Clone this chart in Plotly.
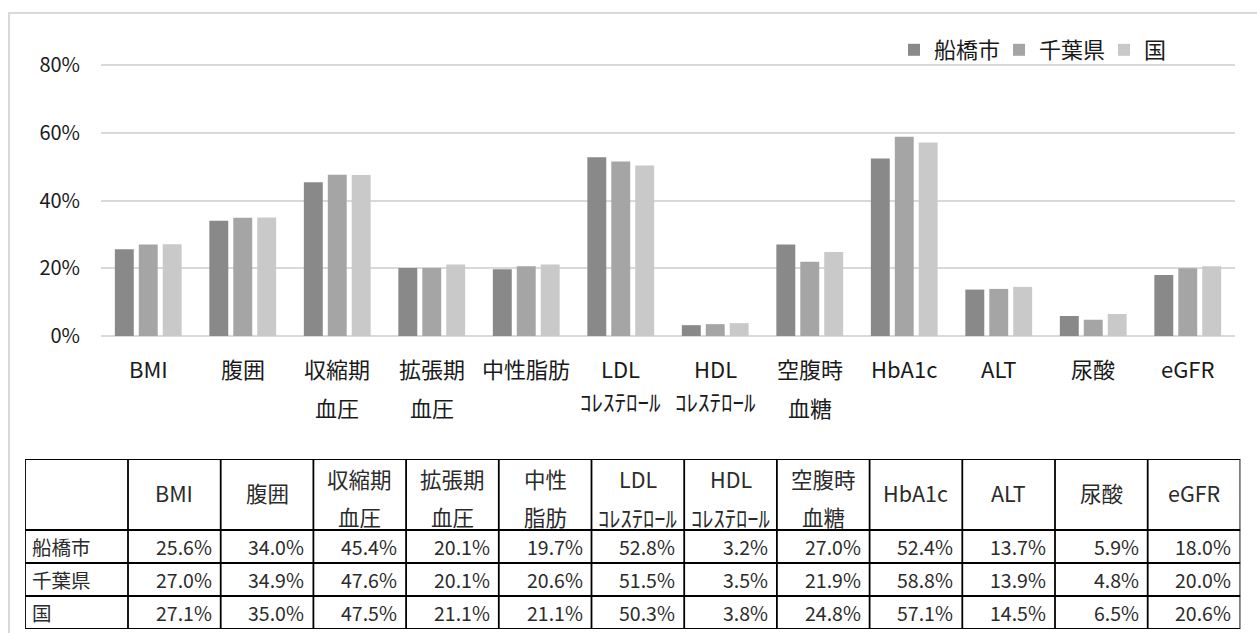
import plotly.graph_objects as go

# ---------------- data ----------------
categories = ["BMI", "腹囲", "収縮期血圧", "拡張期血圧", "中性脂肪", "LDLコレステロール",
              "HDLコレステロール", "空腹時血糖", "HbA1c", "ALT", "尿酸", "eGFR"]
label_line1 = ["BMI", "腹囲", "収縮期", "拡張期", "中性脂肪", "LDL", "HDL", "空腹時",
               "HbA1c", "ALT", "尿酸", "eGFR"]
label_line2 = ["", "", "血圧", "血圧", "", "ｺﾚｽﾃﾛｰﾙ", "ｺﾚｽﾃﾛｰﾙ", "血糖", "", "", "", ""]
table_head1 = ["BMI", "腹囲", "収縮期", "拡張期", "中性", "LDL", "HDL", "空腹時",
               "HbA1c", "ALT", "尿酸", "eGFR"]
table_head2 = ["", "", "血圧", "血圧", "脂肪", "ｺﾚｽﾃﾛｰﾙ", "ｺﾚｽﾃﾛｰﾙ", "血糖", "", "", "", ""]
series_names = ["船橋市", "千葉県", "国"]
funabashi = [25.6, 34.0, 45.4, 20.1, 19.7, 52.8, 3.2, 27.0, 52.4, 13.7, 5.9, 18.0]
chiba = [27.0, 34.9, 47.6, 20.1, 20.6, 51.5, 3.5, 21.9, 58.8, 13.9, 4.8, 20.0]
kuni = [27.1, 35.0, 47.5, 21.1, 21.1, 50.3, 3.8, 24.8, 57.1, 14.5, 6.5, 20.6]
y_ticks = [0, 20, 40, 60, 80]

# ---------------- style ----------------
W, H = 1257, 633
FONT = "Noto Sans CJK JP"
TXT = "#1a1a1a"
TTXT = "#2b2b2b"
colors = ["#898989", "#a5a5a5", "#c9c9c9"]
col_widths = [103] + [92.7] * len(categories)   # table column widths (px)
row_heights = [71, 33, 33, 33]                   # table row heights (px)


def py(px):  # pixel (from top) -> paper coordinate
    return 1 - px / H


def pxx(px):
    return px / W


# chart vertical geometry
y_zero_px, y80_px = 336, 65
y_top_val = 81
px_per = (y_zero_px - y80_px) / 80
y_top_px = y_zero_px - y_top_val * px_per

fig = go.Figure()
for name, vals, col in zip(series_names, [funabashi, chiba, kuni], colors):
    fig.add_trace(go.Bar(x=categories, y=vals, name=name,
                         marker=dict(color=col, line=dict(width=0)),
                         xaxis="x", yaxis="y", hoverinfo="x+y+name"))

annotations = []
shapes = []

# category labels (two lines)
for cat, l1, l2 in zip(categories, label_line1, label_line2):
    annotations.append(dict(x=cat, xref="x", y=py(368), yref="paper", text=l1, showarrow=False,
                            yanchor="middle", font=dict(family=FONT, size=22, color=TXT)))
    if l2:
        kana = l2.startswith("ｺ")
        annotations.append(dict(x=cat, xref="x", y=py(401 if kana else 407), yref="paper",
                                text=l2, showarrow=False, yanchor="middle",
                                font=dict(family=FONT, size=23 if kana else 22, color=TXT)))

# ---------------- table (drawn on auxiliary axes x2/y2, in px units) ----------------
x_edges = [0]
for w in col_widths:
    x_edges.append(x_edges[-1] + w)
y_edges = [0]
for h in row_heights:
    y_edges.append(y_edges[-1] + h)
tab_w, tab_h = x_edges[-1], y_edges[-1]
tab_left, tab_top = 25, 459

for xe in x_edges:
    shapes.append(dict(type="line", xref="x2", yref="y2", x0=xe, x1=xe, y0=0, y1=tab_h,
                       line=dict(color="black", width=1.8)))
for ye in y_edges:
    shapes.append(dict(type="line", xref="x2", yref="y2", x0=0, x1=tab_w, y0=ye, y1=ye,
                       line=dict(color="black", width=1.8)))

hdr_h = row_heights[0]
for j, (h1, h2) in enumerate(zip(table_head1, table_head2)):
    cx = (x_edges[j + 1] + x_edges[j + 2]) / 2
    if h2:
        annotations.append(dict(x=cx, xref="x2", y=hdr_h * 0.27, yref="y2", text=h1,
                                showarrow=False, yanchor="middle",
                                font=dict(family=FONT, size=21.5, color=TTXT)))
        kana = h2.startswith("ｺ")
        annotations.append(dict(x=cx, xref="x2", y=hdr_h * 0.81, yref="y2", text=h2,
                                showarrow=False, yanchor="middle",
                                font=dict(family=FONT, size=22.5 if kana else 21.5, color=TTXT)))
    else:
        annotations.append(dict(x=cx, xref="x2", y=hdr_h * 0.47, yref="y2", text=h1,
                                showarrow=False, yanchor="middle",
                                font=dict(family=FONT, size=21.5, color=TTXT)))

for r, (name, vals) in enumerate(zip(series_names, [funabashi, chiba, kuni])):
    cy = (y_edges[r + 1] + y_edges[r + 2]) / 2
    annotations.append(dict(x=x_edges[0] + 5, xref="x2", y=cy, yref="y2", text=name,
                            showarrow=False, xanchor="left", yanchor="middle",
                            font=dict(family=FONT, size=19.5, color=TTXT)))
    for j, v in enumerate(vals):
        annotations.append(dict(x=x_edges[j + 2] - 7, xref="x2", y=cy, yref="y2",
                                text=f"{v:.1f}%", showarrow=False, xanchor="right",
                                yanchor="middle", font=dict(family=FONT, size=19.5, color=TTXT)))

# outer light frame
shapes.append(dict(type="rect", xref="paper", yref="paper", x0=pxx(9), x1=1.2, y0=-0.2,
                   y1=py(13), line=dict(color="#d9d9d9", width=2),
                   fillcolor="rgba(0,0,0,0)", layer="below"))

fig.update_layout(
    width=W, height=H,
    margin=dict(l=0, r=0, t=0, b=0, autoexpand=False),
    paper_bgcolor="white", plot_bgcolor="white",
    barmode="group", bargap=0.24, bargroupgap=0.21,
    font=dict(family=FONT, color=TXT),
    xaxis=dict(domain=[pxx(101), pxx(1235)], showticklabels=False, showgrid=False,
               showline=False, ticks="", fixedrange=True),
    yaxis=dict(domain=[py(y_zero_px), py(y_top_px)], range=[0, y_top_val], tickvals=y_ticks,
               ticktext=[f"{v}%" for v in y_ticks], showgrid=True, gridcolor="#d9d9d9",
               gridwidth=1.5, zeroline=True, zerolinecolor="#d9d9d9", zerolinewidth=2,
               showline=False, ticks="", ticklabelstandoff=20, fixedrange=True,
               tickfont=dict(family=FONT, size=20, color=TXT)),
    xaxis2=dict(domain=[pxx(tab_left), pxx(tab_left + tab_w)], range=[0, tab_w], anchor="y2",
                visible=False, fixedrange=True),
    yaxis2=dict(domain=[py(tab_top + tab_h), py(tab_top)], range=[tab_h, 0], anchor="x2",
                visible=False, fixedrange=True),
    legend=dict(orientation="h", x=pxx(894), xanchor="left", y=py(50), yanchor="middle",
                font=dict(family=FONT, size=22, color=TXT), bgcolor="rgba(0,0,0,0)",
                itemwidth=30, traceorder="normal", entrywidth=60),
    annotations=annotations,
    shapes=shapes,
)

fig.write_html("out.html", config={"displayModeBar": False},
               post_script="document.body.style.margin='0';")
